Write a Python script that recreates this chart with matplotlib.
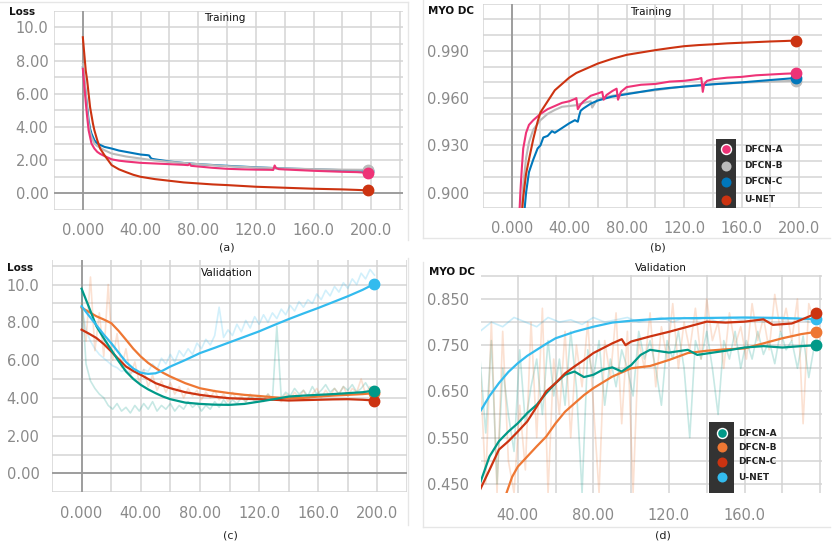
import matplotlib
matplotlib.use('Agg')
import matplotlib.pyplot as plt
from matplotlib.patches import Rectangle

# ---- colours (tensorboard palette) ----
PINK, GREY, BLUE, RED = '#ee3377', '#bbbbbb', '#0077bb', '#cc3311'
TEAL, ORANGE, CYAN = '#009988', '#ee7733', '#33bbee'

# ---------------- (a) training loss ----------------
a_names = ['DFCN-A', 'DFCN-B', 'DFCN-C', 'U-NET']
a_unet_x = [0, 1, 2, 3, 4, 5, 6, 7, 8, 10, 12, 15, 20, 25, 30, 35, 40, 50, 60, 70,
            80, 90, 100, 110, 120, 130, 140, 150, 160, 170, 180, 190, 198]
a_unet_y = [9.4, 8.4, 7.4, 6.8, 6.0, 5.2, 4.7, 4.2, 3.8, 3.2, 2.7, 2.3, 1.7, 1.45, 1.28, 1.12, 1.0, 0.86, 0.76, 0.66,
            0.6, 0.54, 0.5, 0.45, 0.4, 0.37, 0.34, 0.31, 0.28, 0.26, 0.24, 0.21, 0.18]
a_dfcn_a_x = [0, 1, 2, 3, 4, 5, 6, 7, 8, 10, 12, 15, 20, 25, 30, 35, 40, 50, 60, 70,
              73, 74, 75, 80, 90, 100, 110, 120, 130, 132, 133, 134, 136, 140, 150, 160, 170, 180, 190, 198]
a_dfcn_a_y = [7.5, 6.5, 5.5, 4.6, 3.8, 3.4, 3.0, 2.85, 2.7, 2.5, 2.38, 2.25, 2.05, 1.97, 1.92, 1.88, 1.84, 1.8, 1.76, 1.72,
              1.7, 1.78, 1.66, 1.62, 1.54, 1.48, 1.45, 1.43, 1.42, 1.41, 1.68, 1.52, 1.46, 1.44, 1.40, 1.36, 1.33, 1.30, 1.28, 1.24]
a_dfcn_b_x = [0, 1, 2, 3, 4, 5, 6, 8, 10, 15, 20, 30, 40, 50, 60, 80, 100, 120, 140, 160, 180, 198]
a_dfcn_b_y = [7.8, 7.0, 6.0, 5.0, 4.2, 3.7, 3.4, 3.0, 2.85, 2.6, 2.4, 2.22, 2.1, 1.98, 1.9, 1.76, 1.64, 1.56, 1.5, 1.46, 1.43, 1.42]
a_dfcn_c_x = [0, 1, 2, 3, 4, 5, 6, 8, 10, 15, 20, 25, 30, 35, 40, 45, 46, 47, 48, 50,
              60, 70, 80, 100, 120, 140, 160, 180, 198]
a_dfcn_c_y = [7.6, 6.8, 6.0, 5.2, 4.4, 3.9, 3.6, 3.2, 3.0, 2.8, 2.7, 2.58, 2.5, 2.42, 2.34, 2.3, 2.28, 2.14, 2.08, 2.05,
              1.92, 1.83, 1.76, 1.66, 1.57, 1.5, 1.45, 1.4, 1.36]

# ---------------- (b) training MYO DC ----------------
b_unet_x = [5, 7, 8, 10, 12, 15, 18, 20, 25, 30, 35, 40, 45, 50, 55, 60, 70, 80, 90, 100,
            110, 120, 130, 140, 150, 160, 170, 180, 190, 198]
b_unet_y = [0.85, 0.886, 0.897, 0.912, 0.921, 0.934, 0.945, 0.951, 0.958, 0.965, 0.969, 0.973, 0.976, 0.978, 0.980, 0.982, 0.985, 0.9875, 0.989, 0.9905,
            0.9918, 0.993, 0.9937, 0.9942, 0.9948, 0.9952, 0.9956, 0.996, 0.9963, 0.9966]
b_dfcn_a_x = [3, 5, 6, 7, 8, 10, 12, 15, 20, 25, 30, 35, 40, 44, 45, 46, 48, 50, 55, 60,
              63, 64, 66, 70, 73, 74, 76, 80, 90, 100, 110, 120, 130, 132, 133, 134, 136, 140, 150, 160,
              170, 180, 190, 198]
b_dfcn_a_y = [0.85, 0.88, 0.9, 0.915, 0.928, 0.938, 0.943, 0.946, 0.95, 0.953, 0.955, 0.957, 0.958, 0.9595, 0.96, 0.953, 0.956, 0.958, 0.9615, 0.963,
              0.964, 0.959, 0.962, 0.9645, 0.966, 0.959, 0.964, 0.967, 0.9685, 0.969, 0.9705, 0.971, 0.9722, 0.9728, 0.964, 0.969, 0.971, 0.972, 0.973, 0.9735,
              0.9745, 0.975, 0.9755, 0.9758]
b_dfcn_b_x = [5, 7, 8, 10, 12, 15, 20, 25, 30, 35, 40, 45, 50, 55, 56, 58, 60, 70, 80, 90,
              100, 120, 140, 160, 180, 198]
b_dfcn_b_y = [0.85, 0.89, 0.905, 0.922, 0.932, 0.94, 0.946, 0.95, 0.9525, 0.9545, 0.955, 0.9555, 0.957, 0.958, 0.954, 0.957, 0.9595, 0.9615, 0.963, 0.964,
              0.965, 0.9675, 0.9688, 0.9698, 0.9705, 0.971]
b_dfcn_c_x = [7, 9, 10, 12, 15, 18, 20, 22, 25, 28, 30, 35, 40, 44, 46, 47, 48, 50, 55, 60,
              70, 80, 90, 100, 110, 120, 140, 160, 180, 198]
b_dfcn_c_y = [0.85, 0.89, 0.9, 0.913, 0.921, 0.928, 0.93, 0.935, 0.936, 0.939, 0.938, 0.941, 0.944, 0.946, 0.945, 0.949, 0.952, 0.9535, 0.9565, 0.9585,
              0.961, 0.9625, 0.964, 0.9655, 0.9665, 0.9673, 0.9688, 0.970, 0.9715, 0.9728]

# ---------------- (c) validation loss ----------------
c_x = [0, 5, 10, 15, 20, 25, 30, 35, 40, 45, 50, 55, 60, 70, 80, 90, 100, 110, 120, 130,
       140, 150, 160, 170, 180, 190, 198]
c_unet = [8.85, 8.35, 7.85, 7.35, 6.9, 6.4, 5.9, 5.55, 5.33, 5.27, 5.3, 5.45, 5.66, 6.0, 6.37, 6.65, 6.94, 7.23, 7.52, 7.85,
          8.17, 8.47, 8.76, 9.07, 9.38, 9.72, 10.04]
c_dfcn_a = [9.78, 8.8, 7.8, 7.15, 6.55, 5.95, 5.4, 5.0, 4.69, 4.45, 4.25, 4.07, 3.93, 3.75, 3.68, 3.64, 3.63, 3.68, 3.8, 3.93,
            4.07, 4.12, 4.16, 4.2, 4.25, 4.3, 4.39]
c_dfcn_b = [8.78, 8.55, 8.32, 8.15, 7.96, 7.55, 7.08, 6.6, 6.19, 5.85, 5.58, 5.33, 5.13, 4.78, 4.51, 4.36, 4.25, 4.16, 4.1, 4.03,
            3.98, 4.0, 4.07, 4.12, 4.16, 4.2, 4.25]
c_dfcn_c = [7.61, 7.4, 7.17, 6.85, 6.46, 6.05, 5.66, 5.42, 5.22, 5.0, 4.78, 4.64, 4.51, 4.3, 4.16, 4.06, 3.98, 3.95, 3.93, 3.9,
            3.86, 3.88, 3.9, 3.92, 3.93, 3.9, 3.86]
# raw (unsmoothed) values, every 3 epochs
c_raw_x = list(range(0, 199, 3))
c_raw_unet = [8.9, 7.6, 7.0, 6.6, 6.3, 6.1, 5.9, 5.7, 5.6, 5.4,
              5.5, 5.3, 5.4, 5.2, 5.5, 5.4, 5.8, 5.5, 6.1, 5.8,
              6.3, 5.9, 6.5, 6.2, 6.6, 6.3, 6.9, 6.6, 7.1, 6.8,
              7.3, 8.8, 7.2, 7.6, 7.3, 7.9, 7.5, 8.1, 7.7, 8.3,
              7.9, 8.4, 8.0, 8.5, 8.2, 8.7, 8.4, 8.9, 8.6, 9.1,
              8.8, 9.2, 9.0, 9.5, 9.2, 9.7, 9.4, 9.9, 9.6, 10.1,
              9.8, 10.3, 10.0, 10.6, 10.3, 10.8, 10.5]
c_raw_dfcn_a = [9.6, 5.8, 4.9, 4.5, 4.2, 4.0, 3.6, 3.4, 3.7, 3.3,
                3.5, 3.2, 3.6, 3.3, 3.7, 3.4, 3.8, 3.3, 3.6, 3.4,
                3.7, 3.3, 3.6, 3.4, 3.8, 3.5, 3.7, 3.3, 3.6, 3.4,
                3.8, 3.5, 3.9, 3.6, 3.9, 3.7, 4.0, 3.8, 4.1, 3.8,
                4.0, 3.9, 4.2, 3.9, 7.8, 4.0, 4.3, 4.1, 4.5, 4.2,
                4.4, 4.1, 4.6, 4.2, 4.4, 4.7, 4.3, 4.5, 4.2, 4.6,
                4.4, 4.7, 4.3, 4.5, 4.8, 4.4, 4.5]
c_raw_dfcn_b = [9.0, 7.0, 10.4, 6.5, 8.5, 6.2, 10.0, 6.0, 7.4, 5.6,
                6.6, 5.2, 5.9, 4.8, 5.5, 4.6, 5.2, 4.4, 4.9, 4.3,
                4.8, 4.2, 4.6, 4.0, 4.5, 4.1, 4.4, 3.9, 4.3, 4.0,
                4.4, 3.9, 4.2, 3.8, 4.3, 3.9, 4.1, 3.8, 4.2, 3.9,
                4.1, 3.8, 4.2, 3.9, 4.0, 3.8, 4.2, 3.9, 4.3, 4.0,
                4.4, 3.9, 4.2, 4.5, 4.0, 4.4, 4.1, 4.5, 4.2, 4.6,
                4.1, 4.5, 4.3, 5.0, 4.2, 4.6, 4.3]

# ---------------- (d) validation MYO DC ----------------
d_unet_x = [20, 25, 30, 35, 40, 45, 50, 55, 60, 70, 80, 90, 100, 110, 120, 140, 160, 180, 198]
d_unet_y = [0.606, 0.64, 0.668, 0.692, 0.711, 0.727, 0.740, 0.753, 0.765, 0.779, 0.790, 0.799, 0.803, 0.806, 0.808, 0.809, 0.810, 0.809, 0.806]
d_dfcn_a_x = [20, 25, 30, 35, 40, 45, 50, 55, 60, 65, 70, 75, 80, 85, 90, 95, 100, 105, 110, 120,
              130, 135, 150, 160, 170, 180, 190, 198]
d_dfcn_a_y = [0.451, 0.509, 0.542, 0.563, 0.581, 0.603, 0.621, 0.646, 0.668, 0.686, 0.693, 0.681, 0.686, 0.697, 0.702, 0.693, 0.707, 0.729, 0.740, 0.734,
              0.740, 0.729, 0.738, 0.745, 0.748, 0.745, 0.748, 0.750]
d_dfcn_b_x = [34, 37, 40, 45, 50, 55, 60, 65, 70, 75, 80, 90, 100, 110, 120, 130, 140, 150, 160, 170,
              180, 190, 198]
d_dfcn_b_y = [0.43, 0.465, 0.487, 0.509, 0.531, 0.552, 0.581, 0.606, 0.624, 0.642, 0.657, 0.682, 0.700, 0.705, 0.718, 0.733, 0.738, 0.741, 0.743, 0.754,
              0.765, 0.774, 0.779]
d_dfcn_c_x = [20, 25, 30, 35, 40, 45, 50, 55, 60, 65, 70, 75, 80, 90, 95, 97, 100, 110, 120, 130,
              140, 150, 160, 170, 175, 185, 190, 198]
d_dfcn_c_y = [0.437, 0.480, 0.524, 0.542, 0.563, 0.585, 0.617, 0.650, 0.668, 0.689, 0.704, 0.718, 0.733, 0.754, 0.763, 0.750, 0.758, 0.769, 0.779, 0.790,
              0.801, 0.799, 0.801, 0.806, 0.794, 0.797, 0.805, 0.819]
d_raw_x = list(range(20, 200, 3))
d_raw_dfcn_b = [0.70, 0.45, 0.80, 0.43, 0.78, 0.50, 0.43, 0.62, 0.48, 0.80, 0.55, 0.83, 0.43, 0.72, 0.60, 0.78, 0.55, 0.75, 0.66, 0.80,
                0.62, 0.43, 0.76, 0.68, 0.82, 0.58, 0.78, 0.43, 0.76, 0.70, 0.82, 0.66, 0.79, 0.72, 0.84, 0.70, 0.80, 0.74, 0.83, 0.72,
                0.85, 0.76, 0.80, 0.70, 0.82, 0.75, 0.79, 0.72, 0.84, 0.76, 0.81, 0.74, 0.86, 0.78, 0.83, 0.76, 0.85, 0.58, 0.84, 0.80]
d_raw_dfcn_a = [0.72, 0.56, 0.76, 0.45, 0.70, 0.60, 0.52, 0.74, 0.58, 0.66, 0.72, 0.60, 0.76, 0.64, 0.72, 0.62, 0.78, 0.66, 0.43, 0.74,
                0.68, 0.76, 0.62, 0.72, 0.66, 0.74, 0.70, 0.64, 0.78, 0.72, 0.76, 0.70, 0.62, 0.76, 0.72, 0.78, 0.70, 0.55, 0.76, 0.72,
                0.78, 0.70, 0.60, 0.76, 0.72, 0.78, 0.70, 0.76, 0.72, 0.78, 0.73, 0.76, 0.71, 0.78, 0.74, 0.76, 0.70, 0.77, 0.68, 0.75]
d_raw_unet_x = list(range(20, 200, 6))
d_raw_unet = [0.78, 0.80, 0.79, 0.81, 0.80, 0.79, 0.81, 0.80, 0.805, 0.795, 0.81, 0.80, 0.805, 0.81, 0.80,
              0.805, 0.81, 0.80, 0.81, 0.805, 0.81, 0.80, 0.81, 0.805, 0.81, 0.80, 0.81, 0.805, 0.81, 0.80]

# ---------------- tick labels ----------------
x_ticks = [0, 40, 80, 120, 160, 200]
x_labels = ['0.000', '40.00', '80.00', '120.0', '160.0', '200.0']
loss_ticks = [0, 2, 4, 6, 8, 10]
loss_labels = ['0.00', '2.00', '4.00', '6.00', '8.00', '10.0']
b_ticks = [0.90, 0.93, 0.96, 0.99]
b_labels = ['0.900', '0.930', '0.960', '0.990']
d_xticks = [40, 80, 120, 160]
d_xlabels = ['40.00', '80.00', '120.0', '160.0']
d_ticks = [0.45, 0.55, 0.65, 0.75, 0.85]
d_labels = ['0.450', '0.550', '0.650', '0.750', '0.850']
val_names = ['DFCN-A', 'DFCN-B', 'DFCN-C', 'U-NET']

W, H = 832, 542
GRID = '#d4d4d4'
AXIS = '#999999'
TICK = '#8a8a8a'

plt.rcParams['font.family'] = ['DejaVu Sans']
fig = plt.figure(figsize=(W / 100, H / 100), dpi=100)


def px_rect(x0, y0, x1, y1):
    return [x0 / W, 1 - y1 / H, (x1 - x0) / W, (y1 - y0) / H]


def frange(a, b, s):
    out, v = [], a
    while v <= b + 1e-9:
        out.append(round(v, 4))
        v += s
    return out


def style(ax, xlim, ylim, xt, xl, yt, yl, xgrid, ygrid, xpad, ypad, zero_x=True, zero_y=True):
    ax.set_xlim(*xlim)
    ax.set_ylim(*ylim)
    ax.set_xticks(xt, xl)
    ax.set_yticks(yt, yl)
    ax.tick_params(which='both', length=0, colors=TICK, labelsize=10.5)
    ax.tick_params(axis='x', pad=xpad)
    ax.tick_params(axis='y', pad=ypad)
    for v in xgrid:
        ax.axvline(v, color=GRID, lw=1.1, zorder=0)
    for v in ygrid:
        ax.axhline(v, color=GRID, lw=1.1, zorder=0)
    if zero_x:
        ax.axvline(0, color=AXIS, lw=1.3, zorder=1)
    if zero_y:
        ax.axhline(0, color=AXIS, lw=1.3, zorder=1)
    for s in ax.spines.values():
        s.set_visible(False)
    ax.patch.set_alpha(0)


def end_dot(ax, xs, ys, color, z):
    ax.plot(xs[-1:], ys[-1:], 'o', color=color, ms=7.5, zorder=z, clip_on=False)


# ---- (a)
ax = fig.add_axes(px_rect(54, 10.7, 403, 210))
style(ax, (-20, 222), (-1, 11), x_ticks, x_labels, loss_ticks, loss_labels,
      frange(-20, 220, 20), frange(-1, 11, 1), 9, 4)
for xs, ys, c, z in [(a_dfcn_c_x, a_dfcn_c_y, BLUE, 3), (a_dfcn_b_x, a_dfcn_b_y, GREY, 4),
                     (a_dfcn_a_x, a_dfcn_a_y, PINK, 5), (a_unet_x, a_unet_y, RED, 6)]:
    ax.plot(xs, ys, color=c, lw=1.5, zorder=z)
for xs, ys, c, z in [(a_dfcn_c_x, a_dfcn_c_y, BLUE, 7), (a_dfcn_b_x, a_dfcn_b_y, GREY, 8),
                     (a_dfcn_a_x, a_dfcn_a_y, PINK, 9), (a_unet_x, a_unet_y, RED, 10)]:
    end_dot(ax, xs, ys, c, z)

# ---- (b)
ax = fig.add_axes(px_rect(483, 3.7, 822, 208.3))
style(ax, (-20, 216), (0.89, 1.02), x_ticks, x_labels, b_ticks, b_labels,
      frange(-20, 200, 20), frange(0.89, 1.02, 0.01), 9, 10, zero_y=False)
for xs, ys, c, z in [(b_dfcn_b_x, b_dfcn_b_y, GREY, 3), (b_dfcn_c_x, b_dfcn_c_y, BLUE, 4),
                     (b_dfcn_a_x, b_dfcn_a_y, PINK, 5), (b_unet_x, b_unet_y, RED, 6)]:
    ax.plot(xs, ys, color=c, lw=1.5, zorder=z)
for xs, ys, c, z in [(b_dfcn_b_x, b_dfcn_b_y, GREY, 7), (b_dfcn_c_x, b_dfcn_c_y, BLUE, 8),
                     (b_dfcn_a_x, b_dfcn_a_y, PINK, 9), (b_unet_x, b_unet_y, RED, 10)]:
    end_dot(ax, xs, ys, c, z)

# ---- (c)
ax = fig.add_axes(px_rect(52, 260, 407, 492.3))
style(ax, (-20, 220), (-1, 11.3), x_ticks, x_labels, loss_ticks, loss_labels,
      frange(-20, 220, 20), frange(-1, 11, 1), 10, 9)
for ys, c in [(c_raw_unet, CYAN), (c_raw_dfcn_a, TEAL), (c_raw_dfcn_b, ORANGE)]:
    ax.plot(c_raw_x, ys, color=c, lw=1.2, alpha=0.22, zorder=2)
for ys, c, z in [(c_dfcn_b, ORANGE, 3), (c_dfcn_c, RED, 4), (c_dfcn_a, TEAL, 5), (c_unet, CYAN, 6)]:
    ax.plot(c_x, ys, color=c, lw=1.6, zorder=z)
    end_dot(ax, c_x, ys, c, z + 4)

# ---- (d)
ax = fig.add_axes(px_rect(480.6, 275, 822, 493))
style(ax, (20.3, 201), (0.43, 0.902), d_xticks, d_xlabels, d_ticks, d_labels,
      frange(20, 200, 20), frange(0.45, 0.90, 0.05), 11, 8.5, zero_x=False, zero_y=False)
ax.plot(d_raw_unet_x, d_raw_unet, color=CYAN, lw=1.2, alpha=0.25, zorder=2)
ax.plot(d_raw_x, d_raw_dfcn_a, color=TEAL, lw=1.2, alpha=0.22, zorder=2)
ax.plot(d_raw_x, d_raw_dfcn_b, color=ORANGE, lw=1.2, alpha=0.22, zorder=2)
for xs, ys, c, z in [(d_unet_x, d_unet_y, CYAN, 3), (d_dfcn_b_x, d_dfcn_b_y, ORANGE, 4),
                     (d_dfcn_a_x, d_dfcn_a_y, TEAL, 5), (d_dfcn_c_x, d_dfcn_c_y, RED, 6)]:
    ax.plot(xs, ys, color=c, lw=1.6, zorder=z)
    end_dot(ax, xs, ys, c, z + 4)

# ---- overlay: titles, captions, legends, faint panel frames
ov = fig.add_axes([0, 0, 1, 1], zorder=20)
ov.set_xlim(0, W)
ov.set_ylim(H, 0)
ov.axis('off')
ov.patch.set_alpha(0)

frame = '#e6e6e6'
ov.plot([408, 408], [2, 240], color=frame, lw=1)
ov.plot([0, 408], [2, 2], color=frame, lw=1)
ov.plot([423, 423], [0, 238], color=frame, lw=1)
ov.plot([423, 830], [238, 238], color=frame, lw=1)
ov.plot([408, 408], [258, 525], color=frame, lw=1)
ov.plot([423, 423], [262, 527], color=frame, lw=1)
ov.plot([423, 830], [527, 527], color=frame, lw=1)

for x, y, s in [(22, 12, 'Loss'), (451, 11, 'MYO DC'), (20, 268, 'Loss'), (452, 272, 'MYO DC')]:
    ov.text(x, y, s, ha='center', va='center', fontsize=7.5, fontweight='bold', color='#111111')
for x, y, s in [(225, 18, 'Training'), (651, 12, 'Training'), (227, 273, 'Validation'), (661, 268, 'Validation')]:
    ov.text(x, y, s, ha='center', va='center', fontsize=7.5, color='#111111')
for x, y, s in [(227, 248, '(a)'), (658, 248, '(b)'), (230, 535, '(c)'), (663, 535, '(d)')]:
    ov.text(x, y, s, ha='center', va='center', fontsize=8, color='#222222')


def legend(x0, x1, y0, y1, ys, names, colors, tx):
    ov.add_patch(Rectangle((x0, y0), x1 - x0, y1 - y0, facecolor='#333333', edgecolor='none'))
    xm = (x0 + x1) / 2
    for i, (n, c, y) in enumerate(zip(names, colors, ys)):
        ov.plot([xm], [y], 'o', ms=7.2, color=c,
                mec='white' if i == 0 else c, mew=1.0 if i == 0 else 0)
        ov.text(tx, y, n, ha='left', va='center', fontsize=6.5, fontweight='bold', color='#222222')


legend(716, 736, 139, 208, [149, 166, 182, 200], a_names, [PINK, GREY, BLUE, RED], 744)
legend(709, 734, 422, 493, [433, 447, 462, 477], val_names, [TEAL, ORANGE, RED, CYAN], 738)

fig.savefig('out.png', dpi=100)
